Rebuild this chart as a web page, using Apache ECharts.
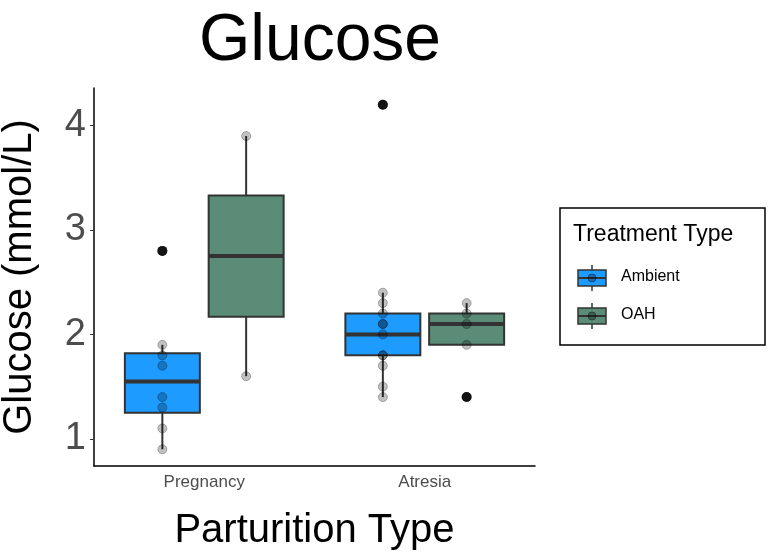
<!DOCTYPE html>
<html>
<head>
<meta charset="utf-8">
<script src="https://cdn.jsdelivr.net/npm/echarts@6/dist/echarts.min.js"></script>
<style>html,body{margin:0;background:#fff}#main{width:778px;height:559px}</style>
</head>
<body>
<div id="main"></div>
<script>
var categories = ['Pregnancy', 'Atresia'];
var treatments = ['Ambient', 'OAH'];
var colors = ['#1E9BFF', '#5A8C78'];
// box summaries per treatment, per category: [whiskerLow, q1, median, q3, whiskerHigh]
var ambientBoxes = [[0.9, 1.25, 1.55, 1.82, 1.9], [1.4, 1.8, 2.0, 2.2, 2.4]];
var oahBoxes = [[1.6, 2.17, 2.75, 3.33, 3.9], [1.9, 1.9, 2.1, 2.2, 2.3]];
// outliers per treatment, per category
var ambientOutliers = [[2.8], [4.2]];
var oahOutliers = [[], [1.4]];
// raw observations
var ambientPoints = [[0.9, 1.1, 1.3, 1.4, 1.7, 1.8, 1.9, 2.8], [1.4, 1.5, 1.7, 1.8, 1.8, 2.0, 2.1, 2.1, 2.2, 2.3, 2.4, 4.2]];
var oahPoints = [[1.6, 3.9], [1.4, 1.9, 2.1, 2.2, 2.3]];
var yTicks = [1, 2, 3, 4];

var offset = 0.19, halfW = 0.17;
var boxData = [], outData = [], ptData = [];
[ambientBoxes, oahBoxes].forEach(function (boxes, t) {
    boxes.forEach(function (b, c) {
        var x = c + 0.5 + (t ? offset : -offset);
        boxData.push([x, b[0], b[1], b[2], b[3], b[4], t]);
    });
});
[ambientOutliers, oahOutliers].forEach(function (outs, t) {
    outs.forEach(function (list, c) {
        list.forEach(function (v) { outData.push([c + 0.5 + (t ? offset : -offset), v]); });
    });
});
[ambientPoints, oahPoints].forEach(function (pts, t) {
    pts.forEach(function (list, c) {
        list.forEach(function (v) { ptData.push([c + 0.5 + (t ? offset : -offset), v]); });
    });
});

function renderBox(params, api) {
    var x = api.value(0);
    var lo = api.coord([x, api.value(1)]), q1 = api.coord([x, api.value(2)]),
        md = api.coord([x, api.value(3)]), q3 = api.coord([x, api.value(4)]),
        hi = api.coord([x, api.value(5)]);
    var left = api.coord([x - halfW, 0])[0], right = api.coord([x + halfW, 0])[0];
    var stroke = {stroke: '#333333', lineWidth: 2};
    return {
        type: 'group',
        children: [
            {type: 'line', shape: {x1: lo[0], y1: lo[1], x2: q1[0], y2: q1[1]}, style: stroke},
            {type: 'line', shape: {x1: q3[0], y1: q3[1], x2: hi[0], y2: hi[1]}, style: stroke},
            {type: 'rect', shape: {x: left, y: q3[1], width: right - left, height: q1[1] - q3[1]},
                style: {fill: colors[api.value(6)], stroke: '#333333', lineWidth: 2}},
            {type: 'line', shape: {x1: left, y1: md[1], x2: right, y2: md[1]}, style: {stroke: '#333333', lineWidth: 4}}
        ]
    };
}

function legendKey(y, color) {
    return [
        {type: 'line', shape: {x1: 592, y1: y - 13, x2: 592, y2: y + 13}, style: {stroke: '#333', lineWidth: 1.5}},
        {type: 'rect', shape: {x: 578, y: y - 8, width: 28, height: 16}, style: {fill: color, stroke: '#333', lineWidth: 1.5}},
        {type: 'line', shape: {x1: 578, y1: y, x2: 606, y2: y}, style: {stroke: '#333', lineWidth: 2}},
        {type: 'circle', shape: {cx: 592, cy: y, r: 4}, style: {fill: 'rgba(0,0,0,0.3)', stroke: 'rgba(0,0,0,0.4)'}}
    ];
}

var chart = echarts.init(document.getElementById('main'));
var font = 'Liberation Sans, Arial, sans-serif';
chart.setOption({
    animation: false,
    title: {text: 'Glucose', left: 315, top: 4, textAlign: 'center',
        textStyle: {fontFamily: font, fontSize: 66, fontWeight: 'normal', color: '#000'}},
    grid: {left: 94, right: 243, top: 88, bottom: 93, outerBoundsMode: 'none', containLabel: false},
    xAxis: [{
        type: 'category', data: categories, position: 'bottom',
        name: 'Parturition Type', nameLocation: 'middle', nameGap: 45,
        nameTextStyle: {fontFamily: font, fontSize: 40, color: '#000'},
        axisLine: {lineStyle: {color: '#000', width: 1.5}},
        axisTick: {alignWithLabel: true, length: 4, lineStyle: {color: '#333'}},
        axisLabel: {fontFamily: font, fontSize: 17, color: '#4D4D4D', margin: 8}
    }, {
        type: 'value', min: 0, max: 2, show: false
    }],
    yAxis: {
        type: 'value', min: 0.74, max: 4.36,
        name: 'Glucose (mmol/L)', nameLocation: 'middle', nameGap: 54, nameRotate: 90,
        nameTextStyle: {fontFamily: font, fontSize: 40, color: '#000'},
        axisLine: {show: true, lineStyle: {color: '#000', width: 1.5}},
        axisTick: {show: true, length: 4, customValues: yTicks, lineStyle: {color: '#333'}},
        axisLabel: {fontFamily: font, fontSize: 38, color: '#4D4D4D', margin: 8, customValues: yTicks},
        splitLine: {show: false}
    },
    series: [
        {type: 'custom', xAxisIndex: 1, data: boxData, renderItem: renderBox, z: 2},
        {type: 'scatter', xAxisIndex: 1, data: outData, symbolSize: 10, z: 3,
            itemStyle: {color: '#1a1a1a', opacity: 1}},
        {type: 'scatter', xAxisIndex: 1, data: ptData, symbolSize: 9, z: 4,
            itemStyle: {color: 'rgba(0,0,0,0.3)', borderColor: 'rgba(0,0,0,0.35)', borderWidth: 1}}
    ],
    graphic: [
        {type: 'rect', shape: {x: 560, y: 208, width: 205, height: 137}, style: {fill: '#fff', stroke: '#000', lineWidth: 1.5}},
        {type: 'text', x: 573, y: 223, style: {text: 'Treatment Type', font: '23px ' + font, fill: '#000'}},
        {type: 'text', x: 621, y: 269, style: {text: treatments[0], font: '16px ' + font, fill: '#000'}},
        {type: 'text', x: 621, y: 307, style: {text: treatments[1], font: '16px ' + font, fill: '#000'}}
    ].concat(legendKey(278, colors[0])).concat(legendKey(316, colors[1]))
});
</script>
</body>
</html>
